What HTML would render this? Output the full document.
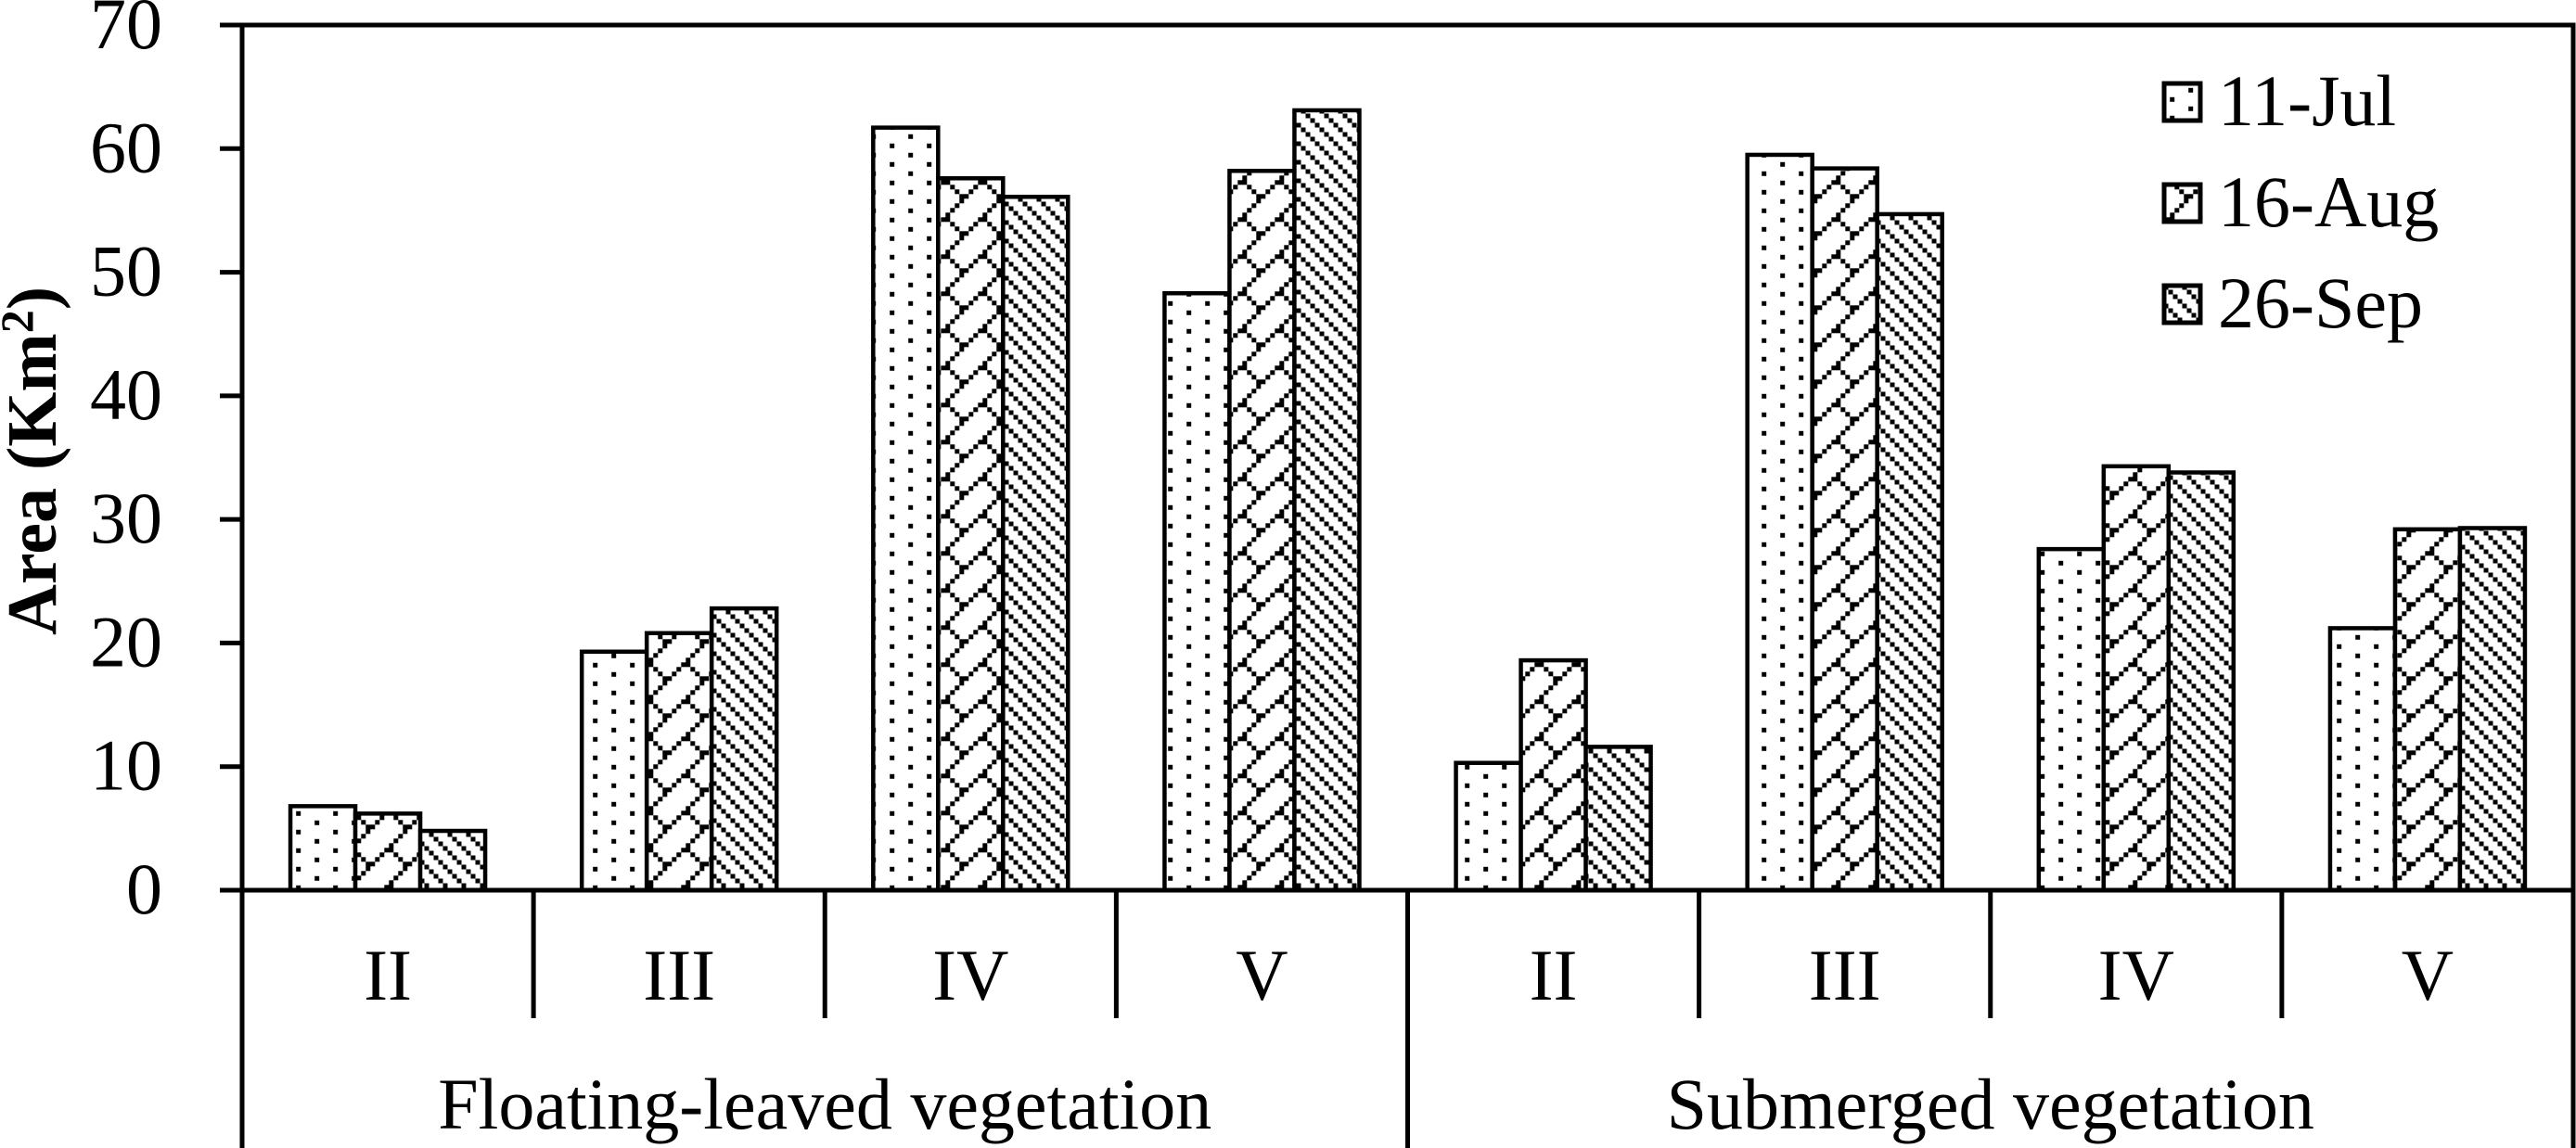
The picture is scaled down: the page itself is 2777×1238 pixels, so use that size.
<!DOCTYPE html>
<html lang="en">
<head>
<meta charset="utf-8">
<title>Vegetation area chart</title>
<style>
html,body{margin:0;padding:0;background:#fff;}
svg{display:block;}
text{font-family:"Liberation Serif",serif;fill:#000;}
</style>
</head>
<body>
<svg id="chart" xmlns="http://www.w3.org/2000/svg" width="2777" height="1238" viewBox="0 0 2777 1238">
<defs>
<pattern id="p-dots" patternUnits="userSpaceOnUse" x="959.2" y="154.8" width="40" height="20">
<rect width="40" height="20" fill="#fff"/>
<rect x="0" y="0" width="5" height="5" fill="#000"/>
<rect x="20" y="10" width="5" height="5" fill="#000"/>
</pattern>
<pattern id="p-shingle" patternUnits="userSpaceOnUse" x="1014.3" y="229.3" width="40" height="40">
<rect width="40" height="40" fill="#fff"/>
<g fill="#000" shape-rendering="crispEdges">
<rect x="0" y="5" width="5" height="5"/>
<rect x="5" y="0" width="5" height="5"/>
<rect x="10" y="35" width="5" height="5"/>
<rect x="15" y="30" width="5" height="5"/>
<rect x="20" y="25" width="5" height="5"/>
<rect x="25" y="20" width="5" height="5"/>
<rect x="30" y="15" width="5" height="5"/>
<rect x="35" y="10" width="5" height="5"/>
<rect x="5" y="5" width="5" height="5"/>
<rect x="10" y="10" width="5" height="5"/>
<rect x="15" y="15" width="5" height="5"/>
<rect x="20" y="20" width="5" height="5"/>
</g>
</pattern>
<pattern id="p-diag" patternUnits="userSpaceOnUse" x="1082.5" y="217.5" width="20" height="20">
<rect width="20" height="20" fill="#fff"/>
<g fill="#000" shape-rendering="crispEdges">
<rect x="0" y="0" width="5" height="5"/>
<rect x="5" y="5" width="5" height="5"/>
<rect x="10" y="10" width="5" height="5"/>
<rect x="15" y="15" width="5" height="5"/>
</g>
</pattern>
</defs>
<g id="bars"></g>
<g id="axes"></g>
<g id="labels"></g>
<g id="legend"></g>
<text transform="translate(60,685) rotate(-90)" font-size="76" font-weight="bold">Area (Km<tspan dy="-25" font-size="50">2</tspan><tspan dy="25">)</tspan></text>
</svg>
<script>
const categories = ['II', 'III', 'IV', 'V', 'II', 'III', 'IV', 'V'];
const groups = ['Floating-leaved vegetation', 'Submerged vegetation'];
const seriesNames = ['11-Jul', '16-Aug', '26-Sep'];
const jul11 = [6.8, 19.3, 61.7, 48.3, 10.3, 59.5, 27.6, 21.2];
const aug16 = [6.2, 20.8, 57.6, 58.2, 18.6, 58.4, 34.3, 29.2];
const sep26 = [4.8, 22.8, 56.1, 63.1, 11.6, 54.7, 33.8, 29.3];
const yTicks = [0, 10, 20, 30, 40, 50, 60, 70];

const NS = 'http://www.w3.org/2000/svg';
const allSeries = [jul11, aug16, sep26];
const fills = ['url(#p-dots)', 'url(#p-shingle)', 'url(#p-diag)'];
const plotLeft = 261, plotRight = 2774, plotTop = 27, plotBottom = 960;
const yMax = yTicks[yTicks.length - 1];
const catW = (plotRight - plotLeft) / categories.length;
const barW = 70;
const margin = (catW - barW * seriesNames.length) / 2;
function yScale(v) { return plotBottom - (v / yMax) * (plotBottom - plotTop); }
function catX(i) { return plotLeft + i * catW; }
function barX(c, s) { return catX(c) + margin + s * barW; }
function make(tag, attrs, parent) {
  const el = document.createElementNS(NS, tag);
  for (const k in attrs) el.setAttribute(k, attrs[k]);
  parent.appendChild(el);
  return el;
}
function line(x1, y1, x2, y2, w, parent) {
  return make('line', { x1: x1, y1: y1, x2: x2, y2: y2, stroke: '#000', 'stroke-width': w }, parent);
}
const barsG = document.getElementById('bars');
const axesG = document.getElementById('axes');
const labelsG = document.getElementById('labels');
const legendG = document.getElementById('legend');

allSeries.forEach(function (vals, s) {
  vals.forEach(function (v, c) {
    const r = make('rect', { x: barX(c, s), y: yScale(v), width: barW, height: yScale(0) - yScale(v), fill: fills[s], stroke: '#000', 'stroke-width': 4.5 }, barsG);
    
    
  });
});

const yAxis = line(plotLeft, plotTop - 2.5, plotLeft, 1238, 5, axesG);


const rightAxis = line(plotRight, plotTop - 2.5, plotRight, 1238, 5, axesG);


const topAxis = line(237, plotTop, plotRight + 2.5, plotTop, 5, axesG);


const xAxis = line(237, plotBottom, plotRight + 2.5, plotBottom, 5, axesG);



yTicks.forEach(function (t) {
  const y = yScale(t);
  const tick = line(237, y, plotLeft, y, 5, axesG);
  
  
  const lab = make('text', { x: 175, y: y + 25, 'font-size': 78, 'text-anchor': 'end' }, labelsG);
  lab.textContent = String(t);
  
  
});

categories.forEach(function (name, c) {
  if (c > 0) {
    const isGroupEdge = c % (categories.length / groups.length) === 0;
    const div = line(catX(c), plotBottom, catX(c), isGroupEdge ? 1238 : 1098, 5, axesG);
    
    
  }
  const lab = make('text', { x: catX(c) + catW / 2, y: 1078, 'font-size': 78, 'text-anchor': 'middle' }, labelsG);
  lab.textContent = name;
  
  
});

groups.forEach(function (name, g) {
  const span = categories.length / groups.length;
  const lab = make('text', { x: catX(g * span) + catW * span / 2, y: 1217, 'font-size': 78, 'text-anchor': 'middle' }, labelsG);
  lab.textContent = name;
  
  
});

seriesNames.forEach(function (name, s) {
  const top = 90 + s * 109;
  const sw = make('rect', { x: 2333, y: top, width: 39, height: 40, fill: fills[s], stroke: '#000', 'stroke-width': 5 }, legendG);
  
  
  const lab = make('text', { x: 2391, y: top + 45, 'font-size': 78 }, legendG);
  lab.textContent = name;
  
  
});
</script>
</body>
</html>
